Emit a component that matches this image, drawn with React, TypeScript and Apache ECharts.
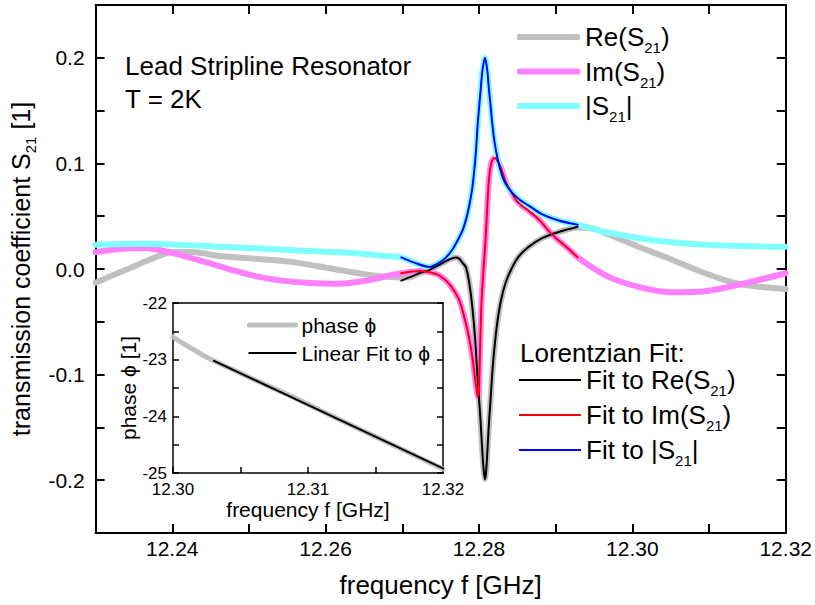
import React, { useEffect, useRef } from 'react';
import * as echarts from 'echarts';

const F = "'Liberation Sans', Arial, Helvetica, sans-serif";

// main plot: frequency [GHz] vs S21 value
const xTicks = { min: 12.23, max: 12.32, step: 0.01 };
const yTicks = { min: -0.25, max: 0.25, step: 0.05 };

const reData: [number, number][] = [
  [12.2300, -0.013], [12.2345, 0.001], [12.2371, 0.009], [12.2401, 0.016], [12.2423, 0.016],
  [12.2466, 0.012], [12.2553, 0.007], [12.2618, -0.001], [12.2661, -0.006], [12.2696, -0.008],
  [12.27091, -0.008], [12.27221, -0.004], [12.27351, -0.001], [12.27481, 0.004], [12.27610, 0.009],
  [12.27697, 0.011], [12.27740, 0.010], [12.27783, 0.006], [12.27827, 0.002], [12.27870, -0.012],
  [12.27913, -0.036], [12.27948, -0.065], [12.27978, -0.099], [12.28000, -0.122], [12.28022, -0.146],
  [12.28045, -0.175], [12.28065, -0.193], [12.28078, -0.199], [12.28091, -0.193], [12.28110, -0.172],
  [12.28130, -0.146], [12.28152, -0.122], [12.28173, -0.099], [12.28201, -0.075], [12.28238, -0.051],
  [12.28286, -0.030], [12.28347, -0.013], [12.28429, 0.001], [12.28519, 0.012], [12.28649, 0.021],
  [12.28818, 0.029], [12.29039, 0.035], [12.29286, 0.039], [12.2943, 0.039], [12.2965, 0.034],
  [12.3008, 0.021], [12.3051, 0.009], [12.3095, -0.004], [12.3138, -0.014], [12.3200, -0.019],
];

const imData: [number, number][] = [
  [12.2300, 0.016], [12.2332, 0.019], [12.2364, 0.020], [12.2401, 0.015], [12.24455, 0.006],
  [12.2478, -0.001], [12.2510, -0.007], [12.2543, -0.011], [12.2575, -0.013], [12.2618, -0.014],
  [12.2661, -0.010], [12.2683, -0.006], [12.26987, -0.004], [12.27221, -0.002], [12.27351, -0.003],
  [12.27481, -0.006], [12.27610, -0.014], [12.27740, -0.029], [12.27827, -0.051], [12.27870, -0.065],
  [12.27913, -0.083], [12.27948, -0.103], [12.27974, -0.117], [12.27987, -0.121], [12.28000, -0.112],
  [12.28009, -0.090], [12.28030, -0.036], [12.28056, -0.003], [12.28087, 0.030], [12.28108, 0.059],
  [12.28130, 0.085], [12.28156, 0.099], [12.28182, 0.104], [12.28208, 0.105], [12.28234, 0.103],
  [12.28282, 0.097], [12.28347, 0.083], [12.28403, 0.075], [12.28477, 0.066], [12.28558, 0.060],
  [12.28649, 0.055], [12.28779, 0.047], [12.28935, 0.034], [12.29039, 0.027], [12.29169, 0.019],
  [12.29286, 0.011], [12.2965, -0.006], [12.3008, -0.017], [12.3051, -0.022], [12.3095, -0.021],
  [12.3138, -0.015], [12.3200, -0.004],
];

const absData: [number, number][] = [
  [12.2300, 0.023], [12.2358, 0.024], [12.2466, 0.021], [12.2553, 0.018], [12.2640, 0.015],
  [12.2683, 0.012], [12.26987, 0.011], [12.27156, 0.006], [12.27351, 0.002], [12.27481, 0.006],
  [12.27571, 0.011], [12.27649, 0.018], [12.27714, 0.026], [12.27783, 0.036], [12.27831, 0.047],
  [12.27870, 0.059], [12.27909, 0.075], [12.27935, 0.091], [12.27961, 0.112], [12.27978, 0.132],
  [12.28000, 0.152], [12.28022, 0.170], [12.28045, 0.188], [12.28078, 0.200], [12.28108, 0.188],
  [12.28130, 0.170], [12.28152, 0.154], [12.28173, 0.138], [12.28201, 0.121], [12.28238, 0.106],
  [12.28282, 0.093], [12.28325, 0.084], [12.28390, 0.076], [12.28477, 0.069], [12.28558, 0.064],
  [12.28649, 0.060], [12.28818, 0.052], [12.29039, 0.046], [12.29286, 0.042], [12.2965, 0.035],
  [12.3030, 0.027], [12.3095, 0.023], [12.3200, 0.021],
];

const reFit: [number, number][] = [
  [12.26987, -0.011], [12.27091, -0.008], [12.27221, -0.004], [12.27351, -0.001], [12.27481, 0.004],
  [12.27610, 0.009], [12.27697, 0.011], [12.27740, 0.010], [12.27783, 0.006], [12.27827, 0.002],
  [12.27870, -0.012], [12.27913, -0.036], [12.27948, -0.065], [12.27978, -0.099], [12.28000, -0.122],
  [12.28022, -0.146], [12.28045, -0.175], [12.28065, -0.193], [12.28078, -0.199], [12.28091, -0.193],
  [12.28110, -0.172], [12.28130, -0.146], [12.28152, -0.122], [12.28173, -0.099], [12.28201, -0.075],
  [12.28238, -0.051], [12.28286, -0.030], [12.28347, -0.013], [12.28429, 0.001], [12.28519, 0.012],
  [12.28649, 0.021], [12.28818, 0.029], [12.29039, 0.035], [12.29286, 0.040],
];

const imFit: [number, number][] = [
  [12.26987, -0.004], [12.27221, -0.002], [12.27351, -0.003], [12.27481, -0.006], [12.27610, -0.014],
  [12.27740, -0.029], [12.27827, -0.051], [12.27870, -0.065], [12.27913, -0.083], [12.27948, -0.103],
  [12.27974, -0.117], [12.27987, -0.121], [12.28000, -0.112], [12.28009, -0.090], [12.28030, -0.036],
  [12.28056, -0.003], [12.28087, 0.030], [12.28108, 0.059], [12.28130, 0.085], [12.28156, 0.099],
  [12.28182, 0.104], [12.28208, 0.105], [12.28234, 0.103], [12.28282, 0.097], [12.28347, 0.083],
  [12.28403, 0.075], [12.28477, 0.066], [12.28558, 0.060], [12.28649, 0.055], [12.28779, 0.047],
  [12.28935, 0.034], [12.29039, 0.027], [12.29169, 0.019], [12.29286, 0.011],
];

const absFit: [number, number][] = [
  [12.26987, 0.011], [12.27156, 0.006], [12.27351, 0.002], [12.27481, 0.006], [12.27571, 0.011],
  [12.27649, 0.018], [12.27714, 0.026], [12.27783, 0.036], [12.27831, 0.047], [12.27870, 0.059],
  [12.27909, 0.075], [12.27935, 0.091], [12.27961, 0.112], [12.27978, 0.132], [12.28000, 0.152],
  [12.28022, 0.170], [12.28045, 0.188], [12.28078, 0.200], [12.28108, 0.188], [12.28130, 0.170],
  [12.28152, 0.154], [12.28173, 0.138], [12.28201, 0.121], [12.28238, 0.106], [12.28282, 0.093],
  [12.28325, 0.084], [12.28390, 0.076], [12.28477, 0.069], [12.28558, 0.064], [12.28649, 0.060],
  [12.28818, 0.052], [12.29039, 0.046], [12.29286, 0.042],
];

// inset: phase vs frequency
const insetX = { min: 12.30, max: 12.32, step: 0.005 };
const insetY = { min: -25, max: -22, step: 0.5 };

const phaseData: [number, number][] = [
  [12.3000, -22.60], [12.3008, -22.72], [12.3015, -22.82], [12.3022, -22.92], [12.3030, -23.02],
  [12.3060, -23.35], [12.3090, -23.67], [12.3120, -24.02], [12.3150, -24.36], [12.3180, -24.70],
  [12.3200, -24.93],
];
const phaseFit: [number, number][] = [[12.30304, -23.02], [12.3200, -24.92]];

const names = {
  re: 'Re(S21)', im: 'Im(S21)', abs: '|S21|',
  reFit: 'Fit to Re(S21)', imFit: 'Fit to Im(S21)', absFit: 'Fit to |S21|',
  phase: 'phase ϕ', phaseFit: 'Linear Fit to ϕ',
};

const sub = (s: string) => '{a|' + s.replace('S21', 'S}{b|21}{a|') + '}';

const richMain = {
  a: { fontSize: 26, lineHeight: 36, fontFamily: F, color: '#000' },
  b: { fontSize: 15, lineHeight: 15, verticalAlign: 'bottom', fontFamily: F, color: '#000' },
};

function axisBase(extra: any) {
  return {
    type: 'value',
    splitLine: { show: false },
    ...extra,
  };
}

export default function App() {
  const ref = useRef<HTMLDivElement>(null);
  useEffect(() => {
    const chart = echarts.init(ref.current!, null, { renderer: 'svg' });
    const frameLine = { onZero: false, lineStyle: { color: '#000', width: 2 } };
    const tickMain = { inside: true, length: 9, lineStyle: { color: '#000', width: 2 } };
    const insetLine = { onZero: false, lineStyle: { color: '#000', width: 1.5 } };
    const tickInset = { inside: true, length: 6, lineStyle: { color: '#000', width: 1.5 } };

    const line = (name: string, data: any, color: string, width: number, smooth: number, xi = 0, yi = 0) => ({
      type: 'line', name, data, xAxisIndex: xi, yAxisIndex: yi, symbol: 'none', showSymbol: false,
      smooth, lineStyle: { color, width, cap: 'round', join: 'round' }, itemStyle: { color }, z: 2, silent: true,
    });

    const option: any = {
      animation: false,
      backgroundColor: '#fff',
      textStyle: { fontFamily: F, color: '#000' },
      grid: [
        { left: 95, top: 5, right: 27, bottom: 72 },
        { left: 173, top: 303, width: 270, height: 170, show: true, backgroundColor: '#fff', borderWidth: 0, z: 3 },
      ],
      xAxis: [
        axisBase({
          gridIndex: 0, position: 'bottom', min: xTicks.min, max: xTicks.max, interval: xTicks.step,
          axisLine: frameLine, axisTick: tickMain,
          axisLabel: {
            fontSize: 21, color: '#000', fontFamily: F, margin: 5,
            formatter: (v: number) => (Math.round(v * 100) % 2 === 0 ? v.toFixed(2) : ''),
          },
          name: 'frequency f [GHz]', nameLocation: 'middle', nameGap: 39,
          nameTextStyle: { fontSize: 26, color: '#000', fontFamily: F },
        }),
        axisBase({
          gridIndex: 0, position: 'top', min: xTicks.min, max: xTicks.max, interval: xTicks.step,
          axisLine: frameLine, axisTick: tickMain, axisLabel: { show: false },
        }),
        axisBase({
          gridIndex: 1, position: 'bottom', min: insetX.min, max: insetX.max, interval: insetX.step,
          axisLine: insetLine, axisTick: tickInset,
          axisLabel: {
            fontSize: 17, lineHeight: 15, color: '#000', fontFamily: F, margin: 9,
            formatter: (v: number) => (Math.round(v * 1000) % 10 === 0 ? v.toFixed(2) : ''),
          },
          name: 'frequency f [GHz]', nameLocation: 'middle', nameGap: 25,
          nameTextStyle: { fontSize: 21, lineHeight: 18, color: '#000', fontFamily: F },
          z: 4,
        }),
        axisBase({
          gridIndex: 1, position: 'top', min: insetX.min, max: insetX.max, interval: insetX.step,
          axisLine: insetLine, axisTick: { show: false }, axisLabel: { show: false }, z: 4,
        }),
      ],
      yAxis: [
        axisBase({
          gridIndex: 0, position: 'left', min: yTicks.min, max: yTicks.max, interval: yTicks.step,
          axisLine: frameLine, axisTick: tickMain,
          axisLabel: {
            fontSize: 21, color: '#000', fontFamily: F, margin: 11,
            formatter: (v: number) => (Math.abs(Math.round(v * 20)) % 2 === 0 ? (Math.round(v * 10) / 10).toFixed(1) : ''),
          },
          name: sub('transmission coefficient S21 [1]'), nameLocation: 'middle', nameGap: 53,
          nameTextStyle: {
            rich: {
              a: { fontSize: 25, lineHeight: 34, fontFamily: F, color: '#000' },
              b: { fontSize: 15, lineHeight: 15, verticalAlign: 'bottom', fontFamily: F, color: '#000' },
            },
          },
        }),
        axisBase({
          gridIndex: 0, position: 'right', min: yTicks.min, max: yTicks.max, interval: yTicks.step,
          axisLine: frameLine, axisTick: tickMain, axisLabel: { show: false },
        }),
        axisBase({
          gridIndex: 1, position: 'left', min: insetY.min, max: insetY.max, interval: insetY.step,
          axisLine: insetLine, axisTick: tickInset,
          axisLabel: {
            fontSize: 17, lineHeight: 15, color: '#000', fontFamily: F, margin: 6,
            formatter: (v: number) => (Math.abs(v - Math.round(v)) < 1e-6 ? String(Math.round(v)) : ''),
          },
          name: 'phase ϕ [1]', nameLocation: 'middle', nameGap: 32,
          nameTextStyle: { fontSize: 21, color: '#000', fontFamily: F },
          z: 4,
        }),
        axisBase({
          gridIndex: 1, position: 'right', min: insetY.min, max: insetY.max, interval: insetY.step,
          axisLine: insetLine, axisTick: tickInset, axisLabel: { show: false }, z: 4,
        }),
      ],
      legend: [
        {
          data: [names.re, names.im, names.abs], orient: 'vertical', left: 517, top: 24,
          padding: 0, itemGap: 3.5, itemWidth: 63, itemHeight: 6, icon: 'roundRect', selectedMode: false,
          formatter: (n: string) => sub(n),
          textStyle: { rich: richMain },
        },
        {
          data: [names.reFit, names.imFit, names.absFit], orient: 'vertical', left: 519, top: 367,
          padding: 0, itemGap: 4, itemWidth: 62, itemHeight: 2, icon: 'rect', selectedMode: false,
          formatter: (n: string) => sub(n),
          textStyle: { rich: richMain },
        },
        {
          data: [
            { name: names.phase, icon: 'roundRect', itemStyle: { borderColor: '#C0C0C0', borderWidth: 3 } },
            { name: names.phaseFit, icon: 'rect' },
          ],
          orient: 'vertical', left: 247, top: 313,
          padding: 0, itemGap: 4, itemWidth: 48, itemHeight: 2, selectedMode: false,
          textStyle: { fontSize: 21, lineHeight: 24, fontFamily: F, color: '#000' },
          z: 5,
        },
      ],
      graphic: [
        { type: 'text', x: 125, y: 66, style: { text: 'Lead Stripline Resonator', fontSize: 26, fontFamily: F, fill: '#000', align: 'left', verticalAlign: 'middle' } },
        { type: 'text', x: 125, y: 99, style: { text: 'T = 2K', fontSize: 26, fontFamily: F, fill: '#000', align: 'left', verticalAlign: 'middle' } },
        { type: 'text', x: 520, y: 353, style: { text: 'Lorentzian Fit:', fontSize: 26, fontFamily: F, fill: '#000', align: 'left', verticalAlign: 'middle' } },
      ],
      series: [
        line(names.re, reData, '#C0C0C0', 6, 0.3),
        line(names.im, imData, '#FF80FF', 6, 0.3),
        line(names.abs, absData, '#80FFFF', 6, 0.3),
        line(names.reFit, reFit, '#000000', 2, 0.3),
        line(names.imFit, imFit, '#FF0000', 2, 0.3),
        line(names.absFit, absFit, '#0000FF', 2, 0.3),
        { ...line(names.phase, phaseData, '#C0C0C0', 5, 0, 2, 2), z: 4 },
        { ...line(names.phaseFit, phaseFit, '#000000', 2, 0, 2, 2), z: 4 },
      ],
    };
    chart.setOption(option);
    return () => chart.dispose();
  }, []);
  return (
    <div
      ref={ref}
      style={{ position: 'fixed', left: 0, top: 0, width: 815, height: 605, background: '#fff' }}
    />
  );
}
